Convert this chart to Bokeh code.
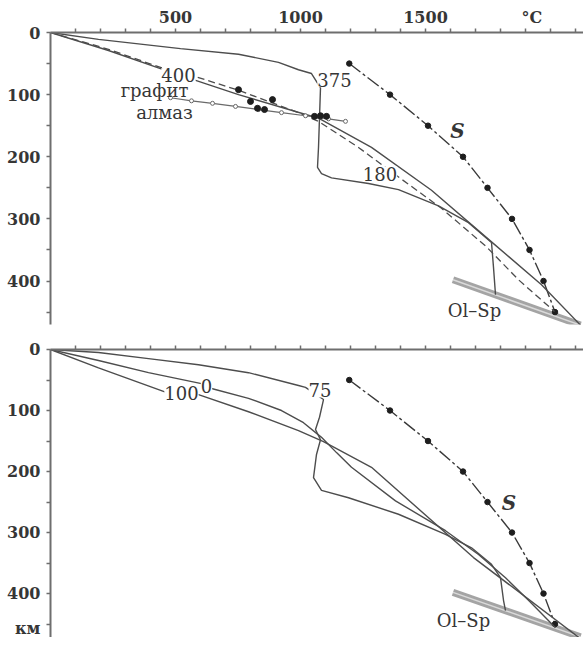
from bokeh.plotting import figure
from bokeh.models import Range1d, FixedTicker
from bokeh.layouts import column
from bokeh.embed import file_html
from bokeh.resources import INLINE
from bokeh.core.properties import value

# ---------------- data (T in °C, depth z in km) ----------------
x_label_pos = [500, 1000, 1500, 1925]
x_label_txt = ["500", "1000", "1500", "°C"]
x_ticks = [100, 200, 300, 400, 500, 600, 700, 800, 900, 1000, 1100, 1200, 1300, 1400,
           1500, 1600, 1700, 1800, 1900, 2000, 2100]
y_label_pos = [0, 100, 200, 300, 400]
y_label_txt = ["0", "100", "200", "300", "400"]
y_unit_pos = 461
y_unit_txt = "км"
y_ticks = [0, 50, 100, 150, 200, 250, 300, 350, 400, 450]

# solidus S
S_T = [1195, 1358, 1510, 1650, 1748, 1846, 1916, 1972, 2018]
S_z = [50, 100, 150, 200, 250, 300, 350, 400, 450]

# Ol-Sp boundary
OlSp_T = [1610, 2120]
OlSp_z = [398, 471]

# ---- upper panel ----
g375_T = [0, 192, 520, 752, 912, 992, 1044, 1080, 1076, 1072, 1068, 1084, 1124,
          1272, 1392, 1552, 1672, 1764, 1772, 1780]
g375_z = [0, 11, 26, 35, 48, 60, 66, 89, 137, 185, 217, 227, 234,
          243, 253, 279, 306, 338, 378, 422]
g180_T = [0, 232, 460, 752, 1072, 1284, 1524, 1764, 1964, 2120]
g180_z = [0, 29, 61, 100, 138, 185, 254, 337, 406, 471]
g400_T = [0, 232, 452, 580, 752, 992, 1072, 1232, 1380, 1564, 1744, 1872, 2016]
g400_z = [0, 27, 58, 71, 93, 129, 143, 185, 229, 283, 345, 398, 449]
gd_T = [480, 564, 648, 740, 832, 924, 1020, 1112, 1180]
gd_z = [105, 110, 114, 119, 124, 129, 134, 139, 143]
xen_T = [752, 800, 888, 828, 856, 1056, 1080, 1104]
xen_z = [92, 111, 108, 122, 124, 135, 134, 135]
top_lbl_text = ["375", "400", "180"]
top_lbl_T = [1136, 512, 1318]
top_lbl_z = [77, 69, 227]

# ---- lower panel ----
g75_T = [0, 192, 392, 592, 792, 992, 1020, 1092, 1076, 1060, 1080, 1064, 1052, 1084,
         1192, 1392, 1580, 1684, 1764, 1800, 1812, 1820]
g75_z = [0, 5, 15, 25, 38, 59, 62, 82, 111, 131, 148, 172, 210, 231,
         243, 270, 303, 325, 352, 374, 411, 428]
g0_T = [0, 192, 392, 604, 644, 792, 924, 1012, 1084, 1144, 1204, 1380, 1580, 1712,
        1820, 1912, 2020]
g0_z = [0, 18, 38, 56, 64, 80, 100, 120, 144, 169, 193, 248, 297, 336,
        374, 411, 456]
g100_T = [0, 192, 460, 592, 792, 992, 1092, 1284, 1692, 2120]
g100_z = [0, 30, 70, 74, 102, 133, 151, 193, 341, 474]
bot_lbl_text = ["75", "0", "100"]
bot_lbl_T = [1078, 624, 524]
bot_lbl_z = [67, 59, 72]

SERIF = "DejaVu Serif"
TXT = "#363636"
AX = "#6e6e6e"
LN = "#4d4d4d"


def panel(height, b_top, b_bot, zmax, show_x, show_unit):
    p = figure(width=583, height=height, x_range=Range1d(0, 2132),
               y_range=Range1d(zmax, 0), x_axis_location="above",
               output_backend="svg", toolbar_location=None,
               min_border_left=50, min_border_right=0,
               min_border_top=b_top, min_border_bottom=b_bot)
    p.outline_line_color = None
    p.grid.visible = False
    p.background_fill_color = "white"
    p.border_fill_color = "white"
    for ax in (p.xaxis[0], p.yaxis[0]):
        ax.axis_line_color = AX
        ax.axis_line_width = 2
        ax.major_tick_line_color = None
        ax.minor_tick_line_color = AX
        ax.minor_tick_line_width = 1.5
        ax.major_tick_in = 0
        ax.minor_tick_in = 0
        ax.major_tick_out = 4
        ax.minor_tick_out = 4
        ax.major_label_text_font = SERIF
        ax.major_label_text_font_style = "bold"
        ax.major_label_text_font_size = "16px"
        ax.major_label_text_color = TXT
    if show_x:
        p.xaxis.ticker = FixedTicker(ticks=x_label_pos, minor_ticks=x_ticks)
        p.xaxis.major_label_overrides = dict(zip(x_label_pos, x_label_txt))
    else:
        p.xaxis.ticker = FixedTicker(ticks=[], minor_ticks=x_ticks)
    p.xaxis.major_label_standoff = 2
    ypos = list(y_label_pos)
    ytxt = list(y_label_txt)
    if show_unit:
        ypos.append(y_unit_pos)
        ytxt.append(y_unit_txt)
    p.yaxis.ticker = FixedTicker(ticks=ypos, minor_ticks=y_ticks)
    p.yaxis.major_label_overrides = dict(zip(ypos, ytxt))
    p.yaxis.major_label_standoff = 6
    # Ol-Sp band
    p.line(OlSp_T, OlSp_z, line_color="#a4a4a4", line_width=7)
    p.line(OlSp_T, OlSp_z, line_color="#dadada", line_width=1.5)
    # solidus
    p.line(S_T, S_z, line_color="#3a3a3a", line_width=1.4, line_dash="14 3 3 3")
    p.scatter(S_T, S_z, size=5.5, color="#1e1e1e")
    return p


def label(p, x, y, text, size="18px", style="normal", bg=None):
    kw = {}
    if bg:
        kw = dict(background_fill_color=bg)
    p.text(x=x, y=y, text=text, text_font=value(SERIF), text_font_size=size,
           text_font_style=style, text_color=TXT, text_align="center",
           text_baseline="middle", **kw)


# ---------------- upper panel ----------------
p1 = panel(335, 32, 11, 470, True, False)
p1.line(g400_T, g400_z, line_color=LN, line_width=1.3, line_dash="7 4")
p1.line(g180_T, g180_z, line_color=LN, line_width=1.4)
p1.line(g375_T, g375_z, line_color=LN, line_width=1.4)
p1.line(gd_T, gd_z, line_color="#6a6a6a", line_width=1.2)
p1.scatter(gd_T, gd_z, size=4, line_color="#6a6a6a", fill_color="white", line_width=1)
p1.scatter(xen_T, xen_z, size=6, color="#1e1e1e")
label(p1, top_lbl_T, top_lbl_z, top_lbl_text, bg="white")
label(p1, [416], [93], ["графит"])
label(p1, [456], [129], ["алмаз"])
label(p1, [1696], [448], ["Ol–Sp"])
label(p1, [1628], [158], ["S"], size="20px", style="bold italic")

# ---------------- lower panel ----------------
p2 = panel(302, 14, 0, 472, False, True)
p2.line(g100_T, g100_z, line_color=LN, line_width=1.4)
p2.line(g0_T, g0_z, line_color=LN, line_width=1.4)
p2.line(g75_T, g75_z, line_color=LN, line_width=1.4)
label(p2, bot_lbl_T, bot_lbl_z, bot_lbl_text, bg="white")
label(p2, [1652], [444], ["Ol–Sp"])
label(p2, [1834], [251], ["S"], size="20px", style="bold italic")

layout = column(p1, p2)
open("out.html", "w").write(file_html(layout, INLINE))
